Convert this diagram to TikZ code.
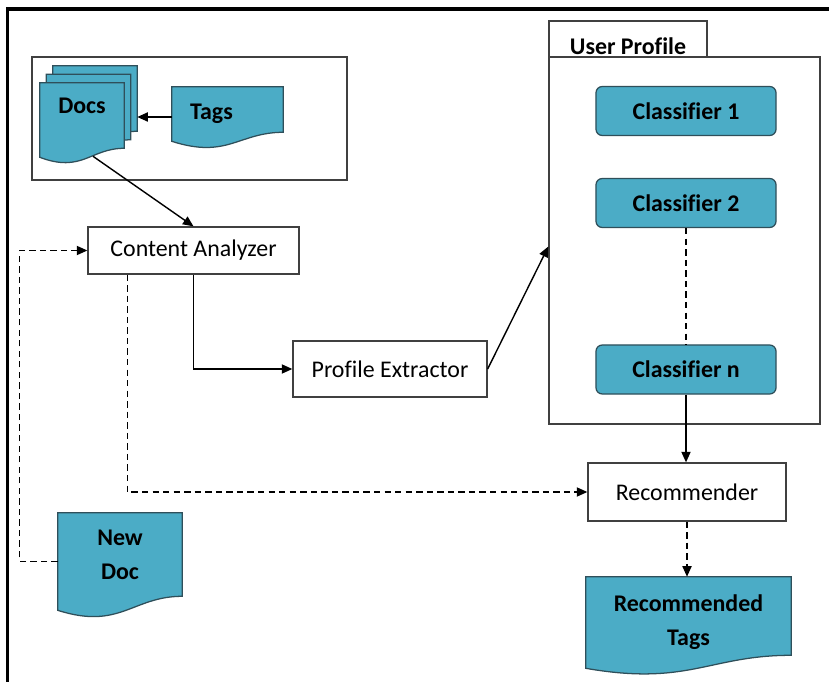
\documentclass[tikz,border=0pt]{standalone}
\usepackage{fontspec}
\setmainfont{Carlito}[Ligatures=NoCommon]
\usetikzlibrary{arrows.meta, positioning, calc, backgrounds}

\definecolor{docfill}{HTML}{4BACC6}
\definecolor{docedge}{HTML}{2F4F5A}
\definecolor{boxedge}{HTML}{404040}

% document symbol drawn round a node: [shift]{node}{rise of right end}{dip of curve}
\newcommand{\docoutline}[4][0,0]{%
  \filldraw[docshape] ([shift={(#1)}]#2.south west) -- ([shift={(#1)}]#2.north west)
    -- ([shift={(#1)}]#2.north east) -- ($(#2.south east)+(#1)+(0,-#3)$)
    .. controls ($(#2.south west)!0.6!(#2.south east)+(#1)+(0,-#3)$)
    and ($(#2.south west)!0.5!(#2.south east)+(#1)+(0,#4)$)
    .. ([shift={(#1)}]#2.south west) -- cycle;}

\begin{document}
\begin{tikzpicture}[x=0.025cm, y=-0.025cm, font=\fontsize{17}{20}\selectfont,
    >={Triangle[length=7.5pt,width=6.5pt]},
    box/.style={draw=boxedge, line width=0.9pt, fill=white, align=center,
        minimum height=1.175cm},
    panel/.style={draw=boxedge, line width=0.9pt},
    tab/.style={draw=boxedge, line width=0.9pt, inner sep=0pt,
        text height=0.75cm, text depth=0pt, font=\fontsize{17}{20}\selectfont\bfseries},
    clf/.style={draw=docedge, line width=0.9pt, fill=docfill, rounded corners=4.5pt,
        minimum width=4.5cm, minimum height=1.225cm,
        font=\fontsize{17}{20}\selectfont\bfseries},
    doc/.style={inner sep=0pt, align=center, font=\fontsize{17}{24}\selectfont\bfseries},
    docshape/.style={draw=docedge, line width=0.9pt, fill=docfill},
    link/.style={->, line width=1pt},
    dlink/.style={link, dash pattern=on 4.5pt off 3pt}]
    \useasboundingbox (0,0) rectangle (829,682);
    \draw[line width=2.5pt] (7.5,682) |- (829,9);

    % documents and tags
    \node[panel, minimum width=7.875cm, minimum height=3.075cm] (docsbox) at (189.5,118.5) {};
    \node[doc, minimum width=2.1cm, minimum height=1.85cm,
        text height=0.45cm, text depth=0.75cm] (docs) at (82,120) {Docs};
    \node[doc, minimum width=2.775cm, minimum height=1.35cm] (tags) at (227.5,114) {Tags\hspace{0.8cm}};
    \coordinate (docsback) at ([shift={(13,-17)}]docs.east);

    % user profile
    \node[tab, minimum width=3.95cm, minimum height=0.9cm] (uptab) at (628,39) {User Profile};
    \node[panel, minimum width=6.775cm, minimum height=9.175cm] (up) at (684.5,240.5) {};
    \node[clf] (c1) at (686,111) {Classifier 1};
    \node[clf] (c2) at (686,203) {Classifier 2};
    \node[clf] (cn) at (686,369.5) {Classifier n};

    \node[box, minimum width=5.275cm] (ca) at (193.5,250.5) {Content Analyzer};
    \node[box, minimum width=4.85cm, minimum height=1.4cm] (pe) at (390,369) {Profile Extractor};
    \node[box, minimum width=4.95cm, minimum height=1.45cm] (rec) at (687,492) {Recommender};

    \node[doc, minimum width=3.1cm, minimum height=2.425cm, text depth=0.32cm] (nd) at (120,561.5) {New\\Doc};
    \node[doc, minimum width=5.125cm, minimum height=2.275cm] (rt) at (688.5,622.5) {Recommended\\Tags};

    \begin{scope}[on background layer]
        \docoutline[13,-17]{docs}{9}{16}
        \docoutline[6.5,-8.5]{docs}{9}{16}
        \docoutline{docs}{9}{16}
        \docoutline{tags}{9}{18}
        \docoutline{nd}{14}{20}
        \docoutline{rt}{13}{18}
    \end{scope}

    \draw[link] ([shift={(0,3)}]tags.west) -- ([shift={(0,3)}]tags.west -| docsback);
    \draw[link] ([shift={(11,-1)}]docs.south) -- (ca.north);
    \draw[dlink] (nd.west) -- ++(-38,0) |- (ca.west);
    \draw[dlink] ([shift={(40,0)}]ca.south west) |- (rec.west);
    \draw[link] (ca.south) |- (pe.west);
    \draw[link] (pe.east) -- ([shift={(0,6)}]up.west);
    \draw[line width=1pt, dash pattern=on 4.5pt off 3pt] (c2.south) -- (cn.north);
    \draw[link] (cn.south) -- (cn.south |- rec.north);
    \draw[dlink] (rec.south) -- (rec.south |- rt.north);
\end{tikzpicture}
\end{document}
